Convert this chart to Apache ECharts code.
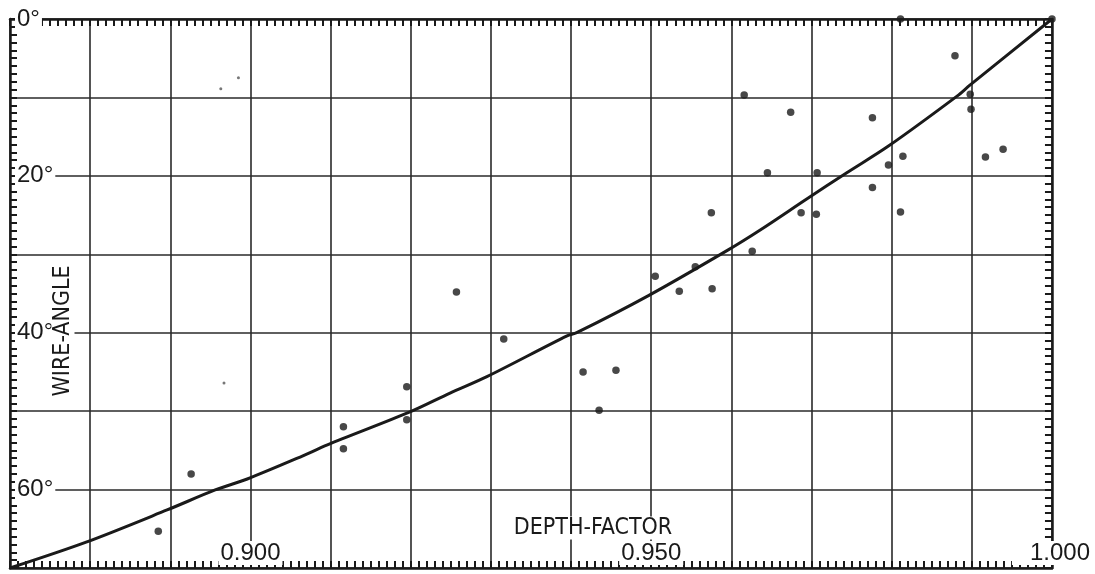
<!DOCTYPE html>
<html>
<head>
<meta charset="utf-8">
<title>Wire-angle vs depth-factor</title>
<script src="https://cdn.jsdelivr.net/npm/echarts@6/dist/echarts.min.js"></script>
<style>
  html, body { margin: 0; padding: 0; background: #fff; }
  #chart { width: 1095px; height: 574px; }
</style>
</head>
<body>
<div id="chart"></div>
<script>
// Measured points: depth-factor and wire-angle (degrees)
const depthFactor = [
  0.8885, 0.8926, 0.9116, 0.9116, 0.9195, 0.9195, 0.9257, 0.9316,
  0.9415, 0.9456, 0.9435, 0.9505, 0.9575, 0.9555, 0.9535, 0.9576,
  0.9626, 0.9616, 0.9674, 0.9645, 0.9707, 0.9687, 0.9706, 0.9811,
  0.9879, 0.9898, 0.9899, 0.9776, 0.9814, 0.9796, 0.9917, 0.9939,
  0.9776, 0.9811, 1.0000
];
const wireAngle = [
  65.3, 58.0, 52.0, 54.8, 46.9, 51.1, 34.8, 40.8,
  45.0, 44.8, 49.9, 32.8, 24.7, 31.6, 34.7, 34.4,
  29.6, 9.7, 11.9, 19.6, 19.6, 24.7, 24.9, 0.0,
  4.7, 9.6, 11.5, 12.6, 17.5, 18.6, 17.6, 16.6,
  21.5, 24.6, 0.0
];

// Faint pencil marks
const faintDepth = [0.8985, 0.8963, 0.8967];
const faintAngle = [7.5, 8.9, 46.4];

// Fitted curve
const curveDepth = [
  0.8700, 0.8795, 0.8896, 0.8956, 0.8996, 0.9062, 0.9096, 0.9199,
  0.9249, 0.9295, 0.9395, 0.9407, 0.9496, 0.9595, 0.9636, 0.9694,
  0.9744, 0.9796, 0.9882, 0.9898, 1.0000
];
const curveAngle = [
  70.0, 66.7, 62.6, 60.05, 58.65, 55.85, 54.3, 50.1,
  47.7, 45.6, 40.4, 40.0, 35.3, 29.5, 26.9, 22.95,
  19.6, 16.2, 9.8, 8.4, 0.0
];

// Labelled ticks
const xTickLabels = ['0.900', '0.950', '1.000'];
const yTickLabels = ['0°', '20°', '40°', '60°'];

const zip = (a, b) => a.map((v, i) => [v, b[i]]);

const ink = '#1a1a1a';
const narrowFont = "'DejaVu Sans Condensed', 'Liberation Sans', sans-serif";
const tickFont = { fontFamily: "'Liberation Sans', sans-serif", fontSize: 24, color: ink };

const tickStyle = { color: ink, width: 2 };
function frameAxis(extra) {
  return Object.assign({
    type: 'value',
    axisLine: { show: true, onZero: false, lineStyle: { color: ink, width: 2.5 } },
    axisTick: { show: true, inside: true, length: 7, lineStyle: tickStyle },
    minorTick: { show: true, splitNumber: 10, length: 7, lineStyle: tickStyle },
    splitLine: { show: false },
    axisLabel: { show: false }
  }, extra);
}

const chart = echarts.init(document.getElementById('chart'), null, { renderer: 'canvas' });

chart.setOption({
  backgroundColor: '#fff',
  animation: false,
  grid: { left: 10, right: 43, top: 19, bottom: 6, containLabel: false },
  xAxis: [
    frameAxis({
      position: 'bottom', min: 0.87, max: 1.0, interval: 0.01,
      splitLine: { show: true, lineStyle: { color: '#2a2a2a', width: 1.6 } },
      axisLabel: {
        show: true, inside: true, margin: 3,
        ...tickFont,
        backgroundColor: '#fff', padding: [0, 2, 0, 2],
        formatter: v => {
          const s = v.toFixed(3);
          if (!xTickLabels.includes(s)) return '';
          // the last label sits a little right of its tick, at the frame corner
          return s === xTickLabels[xTickLabels.length - 1] ? '{end|' + s + '}' : s;
        },
        rich: {
          end: { ...tickFont, padding: [0, 0, 0, 16], backgroundColor: 'transparent' }
        }
      }
    }),
    frameAxis({ position: 'top', min: 0.87, max: 1.0, interval: 0.01 })
  ],
  yAxis: [
    frameAxis({
      position: 'left', min: 0, max: 70, interval: 10, inverse: true,
      splitLine: { show: true, lineStyle: { color: '#2a2a2a', width: 1.6 } },
      axisLabel: {
        show: true, inside: true, margin: 5,
        ...tickFont,
        backgroundColor: '#fff', padding: [0, 2, 0, 2],
        formatter: v => {
          const s = Math.round(v) + '°';
          return yTickLabels.includes(s) ? s : '';
        }
      }
    }),
    frameAxis({ position: 'right', min: 0, max: 70, interval: 10, inverse: true })
  ],
  graphic: [
    {
      type: 'text', x: 593, y: 528, z: 10,
      style: { text: 'DEPTH-FACTOR', fontFamily: narrowFont, fontSize: 23, fill: ink,
               align: 'center', verticalAlign: 'middle', backgroundColor: '#fff' }
    },
    {
      type: 'text', x: 63, y: 331, rotation: Math.PI / 2, z: 10,
      style: { text: 'WIRE-ANGLE', fontFamily: narrowFont, fontSize: 23, fill: ink,
               align: 'center', verticalAlign: 'middle', backgroundColor: '#fff' }
    }
  ],
  series: [
    {
      name: 'curve', type: 'line', smooth: 0.3, showSymbol: false,
      data: zip(curveDepth, curveAngle),
      lineStyle: { color: ink, width: 3 }, z: 3
    },
    {
      name: 'points', type: 'scatter', symbolSize: 7.5,
      data: zip(depthFactor, wireAngle),
      itemStyle: { color: ink }, z: 4
    },
    {
      name: 'faint', type: 'scatter', symbolSize: 3,
      data: zip(faintDepth, faintAngle),
      itemStyle: { color: '#555' }, z: 4
    }
  ]
});
</script>
</body>
</html>
